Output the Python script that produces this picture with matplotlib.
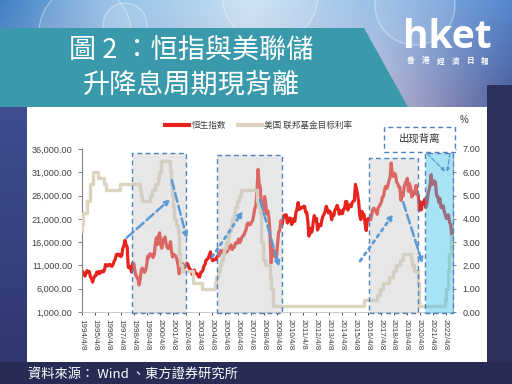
import matplotlib
matplotlib.use('Agg')
import matplotlib.pyplot as plt
import matplotlib.dates as mdates
from matplotlib.patches import Polygon, Rectangle, Circle
from matplotlib.lines import Line2D
import numpy as np
import pandas as pd
from datetime import datetime

# ---------------- data ----------------
hsi_first_month_end = '1994-04-30'
hsi_monthly = [
    # 1994 Apr-Dec
    9600, 9300, 8700, 9400, 9900, 9500, 9700, 8600, 8190,
    # 1995
    7400, 8200, 8700, 8800, 9600, 9200, 9700, 9300, 9700, 9800, 9600, 10070,
    # 1996
    11200, 11000, 10900, 11200, 11200, 10900, 10800, 11300, 11900, 12400, 13300, 13450,
    # 1997
    13200, 13300, 12900, 13100, 14700, 15200, 16400, 15400, 15000, 10600, 10500, 10700,
    # 1998
    9600, 11500, 11500, 10200, 8900, 8500, 8000, 6800, 7900, 10000, 10400, 10050,
    # 1999
    9500, 9900, 10900, 13000, 12700, 13500, 13300, 13400, 12700, 13300, 15400, 16960,
    # 2000
    15500, 17200, 18000, 15500, 14700, 16100, 16800, 17100, 15600, 14900, 14600, 15100,
    # 2001
    16100, 14000, 12800, 13400, 13200, 13000, 12300, 11100, 9200, 10100, 11300, 11400,
    # 2002
    10700, 10500, 11000, 11500, 11300, 10600, 10200, 10000, 9100, 9400, 10000, 9300,
    # 2003
    9300, 9100, 8600, 8500, 9500, 9600, 10000, 10900, 11200, 12200, 12300, 12600,
    # 2004
    13300, 13900, 12700, 12000, 12200, 12300, 12200, 12850, 13100, 13050, 14100, 14230,
    # 2005
    13700, 14200, 13500, 13900, 13900, 14200, 14900, 14900, 15400, 14400, 14900, 14900,
    # 2006
    15750, 15900, 15800, 16700, 15900, 16300, 17000, 17400, 17500, 18300, 18700, 19960,
    # 2007
    20100, 19700, 19800, 20300, 20600, 21800, 23200, 23900, 27100, 31600, 28600, 27800,
    # 2008
    23500, 24300, 22800, 25800, 24500, 22100, 22700, 21300, 18000, 11500, 13900, 14400,
    # 2009
    13300, 12800, 12500, 15500, 18200, 18400, 20600, 19700, 20900, 21800, 21800, 21870,
    # 2010
    20100, 20600, 21200, 21100, 19800, 20100, 21000, 20500, 22400, 23100, 24500, 23000,
    # 2011
    23400, 23300, 23500, 23700, 23700, 22400, 22400, 20500, 17300, 19000, 17990, 18430,
    # 2012
    20400, 21700, 20600, 21100, 18600, 19400, 19800, 19500, 20800, 21600, 22000, 22650,
    # 2013
    23700, 23000, 22300, 22700, 22400, 20800, 21900, 21700, 22860, 23200, 23900, 23300,
    # 2014
    22000, 22800, 22150, 22100, 23100, 23200, 24750, 24700, 22900, 23900, 23990, 23600,
    # 2015
    24500, 24800, 24900, 28400, 27400, 26250, 24600, 21700, 20850, 22600, 21990, 21900,
    # 2016
    19700, 18500, 20800, 21100, 20800, 20800, 21900, 23000, 23300, 22900, 22800, 22000,
    # 2017
    23400, 23700, 24100, 24600, 25700, 25800, 27300, 27970, 27550, 28250, 29180, 29900,
    # 2018
    33000, 30800, 30100, 30800, 30500, 28950, 28580, 27900, 27800, 24980, 26500, 25850,
    # 2019
    27900, 28600, 29050, 29700, 26900, 28540, 27780, 25700, 26100, 26900, 26350, 28190,
    # 2020
    26300, 26100, 22800, 24640, 22960, 24430, 24600, 25180, 23460, 24100, 26340, 27230,
    # 2021
    28280, 30500, 28380, 28720, 29150, 28830, 25960, 25880, 24580, 25380, 23480, 23400,
    # 2022 Jan-Oct
    23800, 22700, 21990, 21090, 21420, 21860, 20160, 19950, 17220, 15200,
]

fed_start_rate = 3.5
fed_change_dates = [
    '1994-04-18', '1994-05-17', '1994-08-16', '1994-11-15', '1995-02-01', '1995-07-06',
    '1995-12-19', '1996-01-31', '1997-03-25', '1998-09-29', '1998-10-15', '1998-11-17',
    '1999-06-30', '1999-08-24', '1999-11-16', '2000-02-02', '2000-03-21', '2000-05-16',
    '2001-01-03', '2001-01-31', '2001-03-20', '2001-04-18', '2001-05-15', '2001-06-27',
    '2001-08-21', '2001-09-17', '2001-10-02', '2001-11-06', '2001-12-11', '2002-11-06',
    '2003-06-25', '2004-06-30', '2004-08-10', '2004-09-21', '2004-11-10', '2004-12-14',
    '2005-02-02', '2005-03-22', '2005-05-03', '2005-06-30', '2005-08-09', '2005-09-20',
    '2005-11-01', '2005-12-13', '2006-01-31', '2006-03-28', '2006-05-10', '2006-06-29',
    '2007-09-18', '2007-10-31', '2007-12-11', '2008-01-22', '2008-01-30', '2008-03-18',
    '2008-04-30', '2008-10-08', '2008-10-29', '2008-12-16', '2015-12-16', '2016-12-14',
    '2017-03-15', '2017-06-14', '2017-12-13', '2018-03-21', '2018-06-13', '2018-09-26',
    '2018-12-19', '2019-07-31', '2019-09-18', '2019-10-30', '2020-03-03', '2020-03-15',
    '2022-03-16', '2022-05-04', '2022-06-15', '2022-07-27', '2022-09-21',
]
fed_rates = [
    3.75, 4.25, 4.75, 5.5, 6.0, 5.75,
    5.5, 5.25, 5.5, 5.25, 5.0, 4.75,
    5.0, 5.25, 5.5, 5.75, 6.0, 6.5,
    6.0, 5.5, 5.0, 4.5, 4.0, 3.75,
    3.5, 3.0, 2.5, 2.0, 1.75, 1.25,
    1.0, 1.25, 1.5, 1.75, 2.0, 2.25,
    2.5, 2.75, 3.0, 3.25, 3.5, 3.75,
    4.0, 4.25, 4.5, 4.75, 5.0, 5.25,
    4.75, 4.5, 4.25, 3.5, 3.0, 2.25,
    2.0, 1.5, 1.0, 0.25, 0.5, 0.75,
    1.0, 1.25, 1.5, 1.75, 2.0, 2.25,
    2.5, 2.25, 2.0, 1.75, 1.25, 0.25,
    0.5, 1.0, 1.75, 2.5, 3.25,
]

x_tick_years = list(range(1994, 2023))
x_tick_labels = [f'{y}/4/8' for y in x_tick_years]
left_ticks = [1000, 6000, 11000, 16000, 21000, 26000, 31000, 36000]
right_ticks = [0, 1, 2, 3, 4, 5, 6, 7]
series_names = ['恒生指数', '美国 联邦基金目标利率']

title_line1 = '圖 2 ：恒指與美聯儲'
title_line2 = '升降息周期現背離'
source_text = '資料來源： Wind 、東方證券研究所'
callout_text = '出现背离'

# ---------------- helpers ----------------
def dy(y):
    yr = int(y)
    frac = y - yr
    d0 = datetime(yr, 1, 1)
    d1 = datetime(yr + 1, 1, 1)
    return mdates.date2num(d0 + (d1 - d0) * frac)

W, H = 512, 384
fig = plt.figure(figsize=(5.12, 3.84), dpi=100)

# ---------------- background ----------------
bg = fig.add_axes([0, 0, 1, 1])
bg.set_xlim(0, W)
bg.set_ylim(H, 0)
bg.axis('off')

yy, xx = np.mgrid[0:H, 0:W].astype(float)
kx = [0, 120, 250, 380, 512]
top_c = np.array([(65, 128, 198), (150, 195, 232), (200, 225, 243), (150, 190, 230), (85, 135, 208)])
bot_c = np.array([(120, 150, 200), (170, 180, 215), (195, 195, 220), (190, 185, 215), (75, 90, 150)])
xs = np.arange(W)
tc = np.stack([np.interp(xs, kx, top_c[:, i]) for i in range(3)], axis=-1)
bc = np.stack([np.interp(xs, kx, bot_c[:, i]) for i in range(3)], axis=-1)
t = np.clip(yy / 107.0, 0, 1)[..., None]
img = (1 - t) * tc[None, :, :] + t * bc[None, :, :]
mask = (xx < 27) & (yy >= 107)
tt = ((yy - 107) / 255.0)[..., None]
left_col = (1 - tt) * np.array([62, 78, 145]) + tt * np.array([48, 55, 112])
img = np.where(mask[..., None], left_col, img)
mask = (xx >= 487) & (yy >= 85)
img = np.where(mask[..., None], np.array([44, 48, 94]), img)
mask = yy >= 362
img = np.where(mask[..., None], np.array([40, 44, 84]), img)
bg.imshow(img / 255.0, extent=(0, W, H, 0), aspect='auto', zorder=0, interpolation='bilinear')

for (cx, cy, r) in [(85, 32, 46), (270, -5, 48), (415, 5, 40), (125, 25, 22)]:
    bg.add_patch(Circle((cx, cy), r, facecolor=(1, 1, 1, 0.10), edgecolor=(1, 1, 1, 0.35), lw=1, zorder=1))

bg.add_patch(Polygon([(0, 28), (364, 28), (408, 107), (0, 107)], closed=True,
                     facecolor='#3a9aab', edgecolor='none', zorder=2))
bg.add_patch(Rectangle((27, 107), 460, 255, facecolor='white', edgecolor='none', zorder=2))

cjk_tc = ['Noto Sans CJK TC', 'DejaVu Sans']
cjk_sc = ['Noto Sans CJK SC', 'DejaVu Sans']
bg.text(191, 51, title_line1, color='white', fontsize=19.5, ha='center', va='center',
        family=cjk_tc, weight='normal', zorder=3)
bg.text(191, 85, title_line2, color='white', fontsize=19.5, ha='center', va='center',
        family=cjk_tc, weight='normal', zorder=3)

bg.text(447, 37, 'hket', color='white', fontsize=28, ha='center', va='center',
        family=['Open Sans', 'DejaVu Sans'], weight='bold', zorder=3)
logo_chars = ['香', '港', '經', '濟', '日', '報']
for i, ch in enumerate(logo_chars):
    bg.text(411 + i * 14.8, 61, ch, color='white', fontsize=5.5, ha='center', va='center',
            family=cjk_tc, weight='bold', zorder=3)

bg.text(28, 375, source_text, color='white', fontsize=9.5, ha='left', va='center',
        family=cjk_tc, zorder=3)

# ---------------- chart ----------------
ax = fig.add_axes([82 / W, 1 - 312 / H, (453 - 82) / W, (312 - 149) / H])
ax.patch.set_alpha(0)
hsi_dates = pd.date_range(hsi_first_month_end, periods=len(hsi_monthly), freq='ME')
ax.plot(hsi_dates, hsi_monthly, color='#e8221c', lw=2.3, zorder=2, solid_joinstyle='round')
ax.set_ylim(1000, 36000)
ax.set_yticks(left_ticks)
ax.set_yticklabels([f'{v:,.2f}' for v in left_ticks])
x0, x1 = datetime(1994, 4, 8), datetime(2022, 11, 5)
ax.set_xlim(x0, x1)
ax.set_xticks([datetime(y, 4, 8) for y in x_tick_years])
ax.set_xticklabels(x_tick_labels, rotation=-90, fontsize=5.8, color='#404040',
                   family=['Liberation Sans', 'DejaVu Sans'])
for lab in ax.get_yticklabels():
    lab.set_family(['Liberation Sans', 'DejaVu Sans'])
ax.tick_params(axis='y', labelsize=6.6, labelcolor='#404040', color='#808080',
               length=3, width=0.7, pad=4)
ax.tick_params(axis='x', length=2, width=0.7, color='#505050', pad=3)
ax.spines['top'].set_visible(False)
ax.spines['right'].set_visible(False)
ax.spines['left'].set_color('#808080')
ax.spines['left'].set_linewidth(0.8)
ax.spines['bottom'].set_color('#c8c8c8')
ax.spines['bottom'].set_linewidth(0.7)

ax2 = ax.twinx()
fd = list(pd.to_datetime(fed_change_dates))
fed_x = [pd.Timestamp('1994-04-01')] + fd + [pd.Timestamp(x1)]
fed_y = [fed_start_rate] + fed_rates + [fed_rates[-1]]
ax2.plot(fed_x, fed_y, color='#ddd4bf', lw=2.4, drawstyle='steps-post', zorder=2)
ax2.set_ylim(0, 7)
ax2.set_yticks(right_ticks)
ax2.set_yticklabels([f'{v:.2f}' for v in right_ticks], family=['Liberation Sans', 'DejaVu Sans'])
ax2.tick_params(axis='y', labelsize=6.6, labelcolor='#404040', color='#808080',
                length=2, width=0.7, pad=5)
ax2.spines['top'].set_visible(False)
ax2.spines['left'].set_visible(False)
ax2.spines['bottom'].set_visible(False)
ax2.spines['right'].set_color('#a0a0a0')
ax2.spines['right'].set_linewidth(0.7)
ax2.set_xlim(x0, x1)

gray_periods = [(1998.10, 2002.28, 0.974), (2004.65, 2009.68, 0.963), (2016.40, 2020.17, 0.943)]
cyan_period = (2020.67, 2022.85, 0.977)
trans = ax2.get_xaxis_transform()
dash = (0, (3.5, 2.5))
for (a, b, top) in gray_periods:
    ax2.add_patch(Rectangle((dy(a), -0.005), dy(b) - dy(a), top + 0.005, transform=trans,
                            facecolor=(0.78, 0.78, 0.78, 0.42), edgecolor='#4f81bd',
                            lw=1.0, linestyle=dash, zorder=3, clip_on=False))
a, b, top = cyan_period
ax2.add_patch(Rectangle((dy(a), -0.005), dy(b) - dy(a), top + 0.005, transform=trans,
                        facecolor=(0.28, 0.76, 0.92, 0.47), edgecolor='#4f81bd',
                        lw=1.0, linestyle=dash, zorder=3, clip_on=False))

ax2.add_patch(Rectangle((dy(2017.54), 0.982), dy(2023.0) - dy(2017.54), 0.153, transform=trans,
                        facecolor='white', edgecolor='#4f81bd', lw=1.0, linestyle=dash,
                        zorder=5, clip_on=False))
ax2.text(dy(2020.27), 1.062, callout_text, transform=trans, ha='center', va='center',
         fontsize=7.5, color='#333333', family=cjk_sc, zorder=6, clip_on=False)

arrows = [
    ((1997.71, 16950), (2001.05, 25200), '--', 1.8),
    ((2001.18, 29340), (2002.34, 16820), '--', 1.8),
    ((2004.29, 12800), (2006.67, 22680), ':', 2.0),
    ((2007.98, 25050), (2009.45, 10730), '--', 1.8),
    ((2015.69, 11950), (2018.25, 22040), ':', 2.0),
    ((2019.00, 24620), (2020.49, 11460), '--', 1.8),
    ((2020.83, 35070), (2022.24, 31120), '--', 0.9),
    ((2022.62, 35140), (2022.39, 31060), '--', 0.9),
]
for (s, e, ls, lw) in arrows:
    ax2.annotate('', xy=(dy(e[0]), e[1]), xytext=(dy(s[0]), s[1]),
                 xycoords=ax.transData, textcoords=ax.transData,
                 arrowprops=dict(arrowstyle='-|>', linestyle=ls, color='#5b9bd5', lw=lw,
                                 mutation_scale=7 if lw > 1 else 5, shrinkA=0, shrinkB=0),
                 zorder=4)

ax2.text(1.03, 1.178, '%', transform=ax2.transAxes, fontsize=7, color='#333333',
         ha='center', va='center', family=['Liberation Sans', 'DejaVu Sans'])

handles = [Line2D([0], [0], color='#e8221c', lw=3),
           Line2D([0], [0], color='#ddd4bf', lw=3)]
leg = ax2.legend(handles, series_names, loc='center', bbox_to_anchor=(0.477, 1.147),
                 ncol=2, frameon=False, handlelength=2.8, columnspacing=1.3,
                 handletextpad=0.3, prop={'family': cjk_sc, 'size': 6.2})
for txt in leg.get_texts():
    txt.set_color('#404040')

fig.savefig('out.png', dpi=100)
